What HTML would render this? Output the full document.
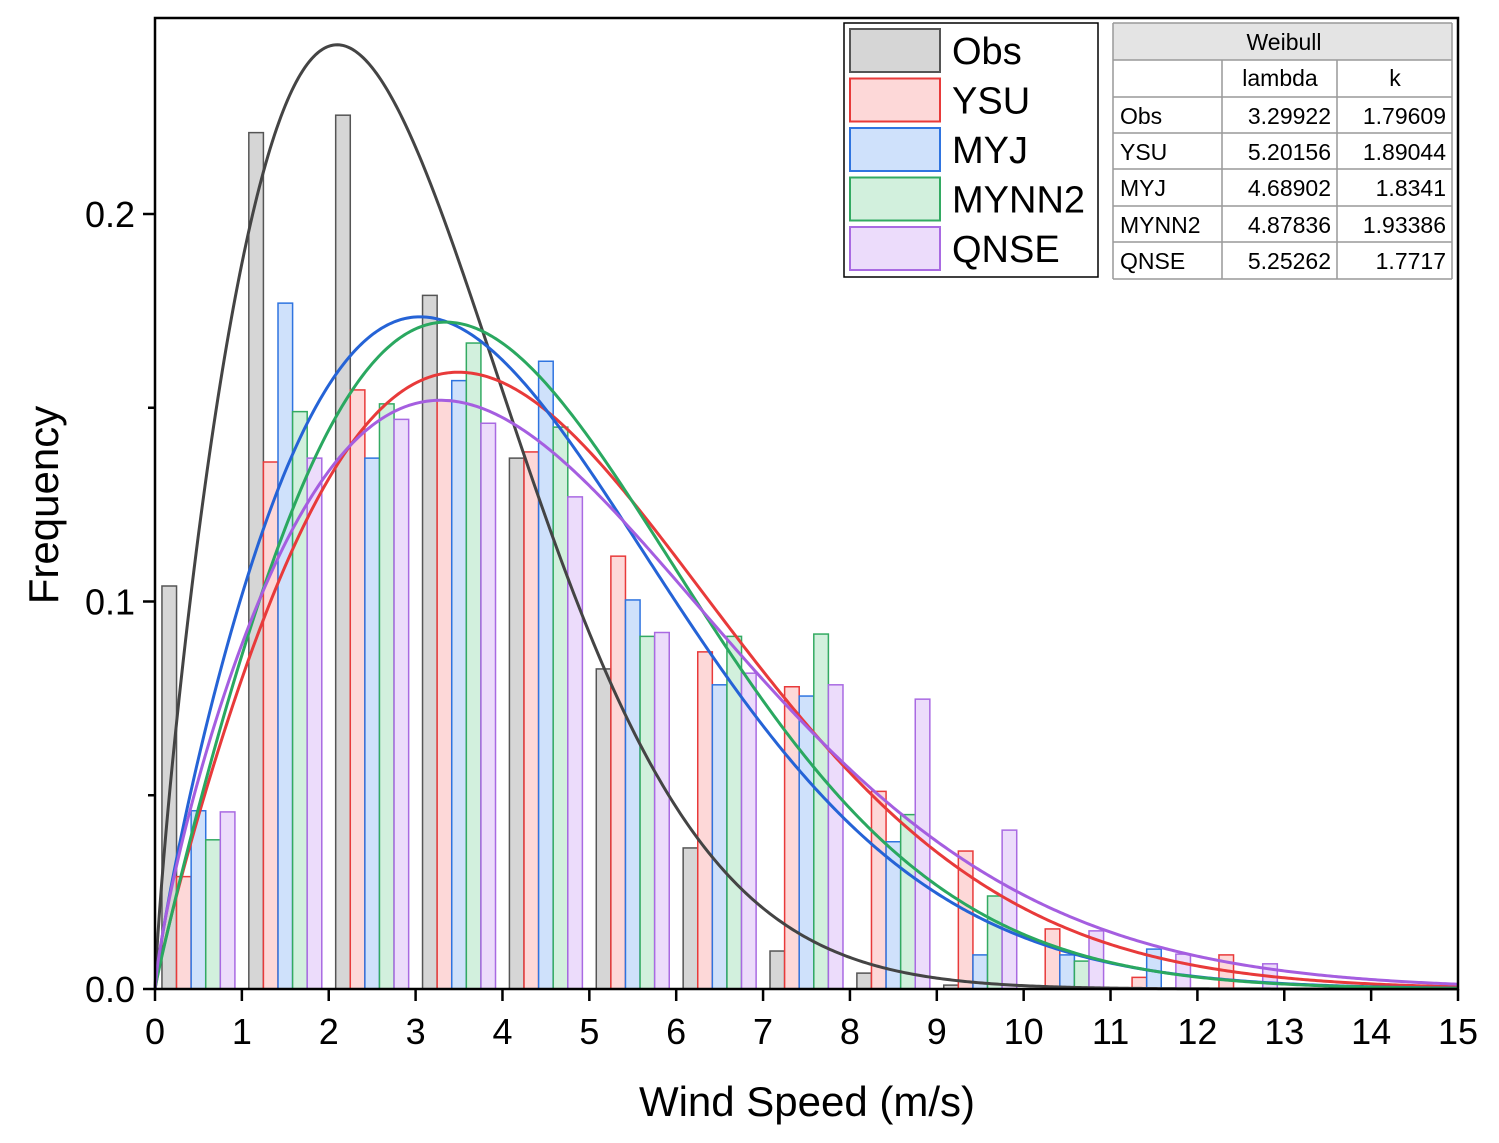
<!DOCTYPE html>
<html><head><meta charset="utf-8"><style>
body{margin:0;background:#fff;}
svg{display:block;font-family:"Liberation Sans",Arial,sans-serif;}
</style></head><body>
<svg id="chart" width="1499" height="1143"></svg>
<script>
const bins=[0,1,2,3,4,5,6,7,8,9,10,11,12,13,14];
const seriesNames=["Obs","YSU","MYJ","MYNN2","QNSE"];
const obsVals=[0.104,0.221,0.2255,0.179,0.137,0.0826,0.0364,0.0098,0.0041,0.001,0,0,0,0,0];
const ysuVals=[0.029,0.136,0.1546,0.152,0.1386,0.1117,0.087,0.078,0.051,0.0356,0.0155,0.003,0.0088,0,0];
const myjVals=[0.046,0.177,0.137,0.157,0.162,0.1004,0.0785,0.0756,0.038,0.0088,0.0088,0.0103,0,0,0];
const mynnVals=[0.0385,0.149,0.151,0.1667,0.145,0.091,0.091,0.0916,0.045,0.024,0.0072,0,0,0,0];
const qnseVals=[0.0457,0.137,0.147,0.146,0.127,0.092,0.0815,0.0785,0.0748,0.041,0.015,0.009,0.0065,0,0];
const lambdas=[3.29922,5.20156,4.68902,4.87836,5.25262];
const ks=[1.79609,1.89044,1.8341,1.93386,1.7717];
const lambdaLabels=["3.29922","5.20156","4.68902","4.87836","5.25262"];
const kLabels=["1.79609","1.89044","1.8341","1.93386","1.7717"];
const xTicks=[0,1,2,3,4,5,6,7,8,9,10,11,12,13,14,15];
const yTicks=[0,0.1,0.2];
const yTickLabels=["0.0","0.1","0.2"];
const yMinor=[0.05,0.15];

const fills=["#d6d6d6","#fdd8d8","#cfe1fb","#d2f0dd","#ecdcfb"];
const strokes=["#555555","#e83a3a","#2f74e0","#33aa62","#a96ae2"];
const curveColors=["#444444","#e83a3a","#2563d6","#2aa860","#a55ee0"];
const allVals=[obsVals,ysuVals,myjVals,mynnVals,qnseVals];

const X0=155,X1=1458,Y0=989,YT=18;
const xs=v=>X0+(X1-X0)*v/15;
const ys=v=>Y0-v*3875;
const NS="http://www.w3.org/2000/svg";
const svg=document.getElementById('chart');
function mk(t,a,p){const e=document.createElementNS(NS,t);for(const k in a)e.setAttribute(k,a[k]);(p||svg).appendChild(e);return e;}

const gb=mk('g',{});


allVals.forEach((vals,s)=>{
  vals.forEach((v,i)=>{
    if(v<=0)return;
    const x=xs(bins[i]+0.08+s*0.168);
    const w=xs(0.168)-xs(0);
    const r=mk('rect',{x:x,y:ys(v),width:w,height:Y0-ys(v),fill:fills[s],stroke:strokes[s],'stroke-width':1.5},gb);
    
    
  });
});
allVals.forEach((_,s)=>{
  const l=lambdas[s],k=ks[s];let d='';
  for(let j=0;j<=600;j++){const x=j*15/600;const f=x<=0?0:(k/l)*Math.pow(x/l,k-1)*Math.exp(-Math.pow(x/l,k));
    d+=(j?'L':'M')+xs(x).toFixed(2)+','+ys(f).toFixed(2);}
  const p=mk('path',{d:d,fill:'none',stroke:curveColors[s],'stroke-width':3});
  
  
});
const fr=mk('rect',{x:X0,y:YT,width:X1-X0,height:Y0-YT,fill:'none',stroke:'#000','stroke-width':2.5});


xTicks.forEach(t=>{
  mk('line',{x1:xs(t),x2:xs(t),y1:Y0,y2:Y0+12,stroke:'#000','stroke-width':2.5});
  const tx=mk('text',{x:xs(t),y:1044,'font-size':36,'text-anchor':'middle'});tx.textContent=t;
  
  
});
yTicks.forEach((t,i)=>{
  mk('line',{x1:X0-12,x2:X0,y1:ys(t),y2:ys(t),stroke:'#000','stroke-width':2.5});
  const tx=mk('text',{x:X0-20,y:ys(t)+13,'font-size':36,'text-anchor':'end'});tx.textContent=yTickLabels[i];
  
  
});
yMinor.forEach(t=>mk('line',{x1:X0-7,x2:X0,y1:ys(t),y2:ys(t),stroke:'#000','stroke-width':2.5}));
const xt=mk('text',{x:807,y:1116,'font-size':42,'text-anchor':'middle'});xt.textContent='Wind Speed (m/s)';


const yt=mk('text',{x:58,y:505,'font-size':42,'text-anchor':'middle',transform:'rotate(-90 58 505)'});yt.textContent='Frequency';


const lg=mk('g',{});


mk('rect',{x:844,y:23,width:254,height:254,fill:'#fff',stroke:'#000','stroke-width':1.5},lg);
seriesNames.forEach((n,s)=>{
  const y=29+s*49.5;
  const sw=mk('rect',{x:850,y:y,width:90,height:43,fill:fills[s],stroke:strokes[s],'stroke-width':2},lg);
  
  
  const t=mk('text',{x:952,y:y+35,'font-size':38},lg);t.textContent=n;
  
  
});
const tb=mk('g',{});


const cx=[1113,1222,1337,1452],ry=[23,60,97,133,169,206,242,279];
mk('rect',{x:1113,y:23,width:339,height:37,fill:'#e4e4e4'},tb);
ry.forEach(y=>mk('line',{x1:1113,x2:1452,y1:y,y2:y,stroke:'#999','stroke-width':1.5},tb));
cx.forEach((x,i)=>mk('line',{x1:x,x2:x,y1:(i==0||i==3)?23:60,y2:279,stroke:'#999','stroke-width':1.5},tb));
function tt(x,y,s,a){const t=mk('text',{x:x,y:y,'font-size':23,'text-anchor':a||'start'},tb);t.textContent=s;return t;}
tt(1284,50,'Weibull','middle');tt(1280,86,'lambda','middle');tt(1395,86,'k','middle');
seriesNames.forEach((n,s)=>{const y=ry[s+2]+27;tt(1120,y,n);tt(1331,y,lambdaLabels[s],'end');tt(1446,y,kLabels[s],'end');});
</script>
</body></html>
